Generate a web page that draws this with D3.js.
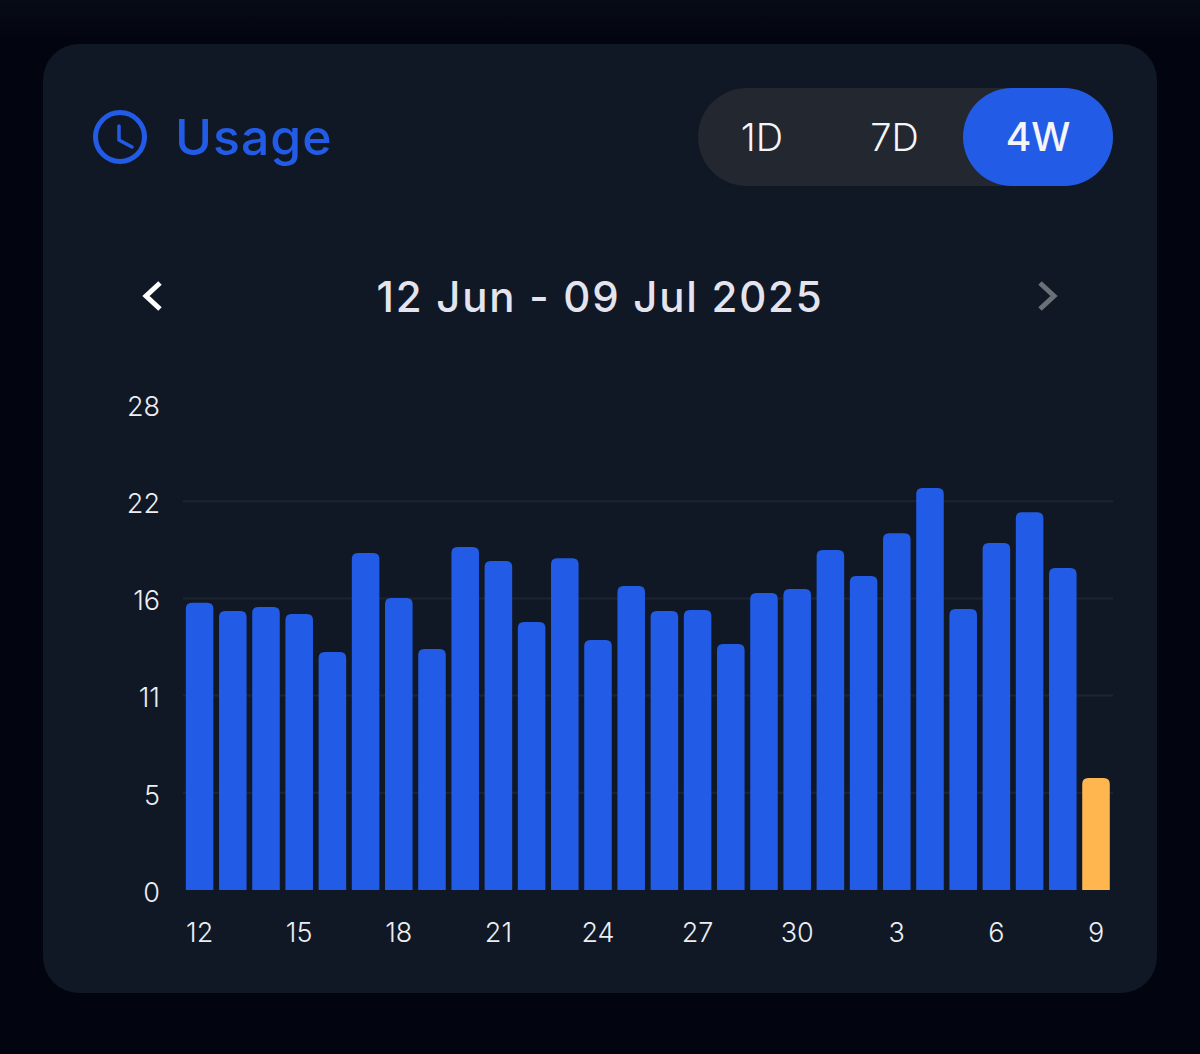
<!DOCTYPE html>
<html>
<head>
<meta charset="utf-8">
<script src="https://cdn.jsdelivr.net/npm/d3@7"></script>
<style>
  html, body { margin: 0; padding: 0; background: #02050f; }
  svg { display: block; }
  text { font-family: "Inter", "Noto Sans", sans-serif; }
  .domain { display: none; }
  .tick line { display: none; }
</style>
</head>
<body>
<script>
const w = 1200;
const h = 1054;

// day of month for each bar, 12 Jun - 9 Jul
const days = [12,13,14,15,16,17,18,19,20,21,22,23,24,25,26,27,28,29,30,1,2,3,4,5,6,7,8,9];
const values = [16.55,16.07,16.3,15.9,13.71,19.41,16.82,13.88,19.76,18.95,15.44,19.12,14.4,17.51,16.07,16.13,14.17,17.11,17.34,19.59,18.09,20.56,23.16,16.19,19.99,21.77,18.55,6.45];
const yTicks = [0,5.6,11.2,16.8,22.4,28];
const yLabels = ["0","5","11","16","22","28"];
const xLabels = [12,15,18,21,24,27,30,3,6,9];
const ranges = ["1D","7D","4W"];

const blue = "#225ce6";
const orange = "#ffb64e";

const svg = d3.select("body").append("svg")
  .attr("width", w)
  .attr("height", h);

const defs = svg.append("defs");
const bg = defs.append("linearGradient").attr("id","bg").attr("x1",0).attr("y1",0).attr("x2",0).attr("y2",1);
bg.append("stop").attr("offset",0).attr("stop-color","#070b15");
bg.append("stop").attr("offset",0.04).attr("stop-color","#02050f");
svg.append("rect").attr("width",w).attr("height",h).attr("fill","url(#bg)");

// card
svg.append("rect")
  .attr("x",43).attr("y",44)
  .attr("width",1114).attr("height",949)
  .attr("rx",36)
  .attr("fill","#101825");

// header icon
const icon = svg.append("g")
  .attr("transform","translate(120,137)")
  .attr("fill","none")
  .attr("stroke",blue)
  .attr("stroke-linecap","round")
  .attr("stroke-width",5);
icon.append("circle").attr("r",24.5);
icon.append("path").attr("stroke-width",3.5).attr("d","M-1,-11V3L12,10");

svg.append("text")
  .attr("x",175).attr("y",155)
  .attr("fill",blue)
  .attr("font-size",50)
  .attr("font-weight",500)
  .attr("letter-spacing",1)
  .text("Usage");

// range switch
svg.append("rect")
  .attr("x",698).attr("y",88)
  .attr("width",415).attr("height",98)
  .attr("rx",49)
  .attr("fill","#23272f");
svg.append("rect")
  .attr("x",963).attr("y",88)
  .attr("width",150).attr("height",98)
  .attr("rx",49)
  .attr("fill",blue);

const rangeX = d3.scaleOrdinal().domain(ranges).range([762,894.5,1038]);
svg.selectAll(".range")
  .data(ranges)
  .enter()
  .append("text")
  .attr("class","range")
  .attr("x",d=>rangeX(d))
  .attr("y",151)
  .attr("text-anchor","middle")
  .attr("font-size",d=>d==="4W"?39:38)
  .attr("font-weight",d=>d==="4W"?500:300)
  .attr("fill","#f4f5f8")
  .text(d=>d);

// date row
svg.append("path")
  .attr("d","M160,283L146,296L160,309")
  .attr("fill","none").attr("stroke","#ffffff").attr("stroke-width",5);
svg.append("path")
  .attr("d","M1040,283L1054,296L1040,309")
  .attr("fill","none").attr("stroke","#6b7078").attr("stroke-width",5);
svg.append("text")
  .attr("x",600).attr("y",312)
  .attr("text-anchor","middle")
  .attr("font-size",42)
  .attr("font-weight",500)
  .attr("letter-spacing",1.75)
  .attr("fill","#e4e4ee")
  .text("12 Jun - 09 Jul 2025");

// chart
const xScale = d3.scaleBand()
  .domain(d3.range(days.length))
  .range([183,1112.6])
  .paddingInner(0.17)
  .paddingOuter(0.085);

const yScale = d3.scaleLinear()
  .domain([0,28])
  .range([890,404]);

// grid
svg.append("g")
  .selectAll("line")
  .data(yTicks.slice(1,-1))
  .enter()
  .append("line")
  .attr("x1",183).attr("x2",1113)
  .attr("y1",d=>yScale(d)).attr("y2",d=>yScale(d))
  .attr("stroke","#1d2430")
  .attr("stroke-width",2);

const barPath = (d,i) => {
  const x0 = xScale(i), x1 = x0 + xScale.bandwidth();
  const y0 = yScale(0), y1 = yScale(d), r = 6;
  return `M${x0},${y0}V${y1+r}Q${x0},${y1} ${x0+r},${y1}H${x1-r}Q${x1},${y1} ${x1},${y1+r}V${y0}Z`;
};

svg.append("g")
  .selectAll("path")
  .data(values)
  .enter()
  .append("path")
  .attr("class","bar")
  .attr("d",barPath)
  .attr("fill",(d,i)=> i===values.length-1 ? orange : blue);

// axes
const yAxis = d3.axisLeft(yScale)
  .tickValues(yTicks)
  .tickFormat((d,i)=>yLabels[i])
  .tickSize(0).tickPadding(0);
const yG = svg.append("g").attr("transform","translate(160,1.5)").call(yAxis);
yG.selectAll("text")
  .attr("font-size",27).attr("font-weight",300).attr("fill","#eceef2").attr("dy","0.36em");

// every third day is labelled
const labelled = days.map((d,i)=>i).filter(i=>i%3===0);
const xAxis = d3.axisBottom(xScale)
  .tickValues(labelled)
  .tickFormat((d,i)=>xLabels[i])
  .tickSize(0).tickPadding(0);
const xG = svg.append("g").attr("transform","translate(0,923)").call(xAxis);
xG.selectAll("text")
  .attr("font-size",27).attr("font-weight",300).attr("fill","#eceef2").attr("dy","0.71em");
</script>
</body>
</html>
